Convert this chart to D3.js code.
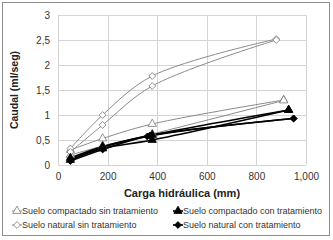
<!DOCTYPE html>
<html>
<head>
<meta charset="utf-8">
<script src="https://cdn.jsdelivr.net/npm/d3@7"></script>
<style>
  body { margin: 0; background: #fff; }
  svg { font-family: "Liberation Sans", Arial, sans-serif; }
</style>
</head>
<body>
<svg></svg>
<script>
// each series has two replicate runs: [carga (mm), caudal (ml/seg)]
const seriesNames = [
    'Suelo compactado sin tratamiento',
    'Suelo compactado con tratamiento',
    'Suelo natural sin tratamiento',
    'Suelo natural con tratamiento'
];

const compactadoSin = [
    [[50, 0.30], [180, 0.53], [380, 0.82], [910, 1.30]],
    [[50, 0.20], [180, 0.38], [380, 0.62], [910, 1.29]]
];
const compactadoCon = [
    [[50, 0.10], [180, 0.33], [380, 0.50], [930, 1.10]],
    [[50, 0.14], [180, 0.37], [380, 0.60], [930, 1.10]]
];
const naturalSin = [
    [[50, 0.33], [180, 1.00], [380, 1.78], [880, 2.52]],
    [[50, 0.26], [180, 0.80], [380, 1.58], [880, 2.50]]
];
const naturalCon = [
    [[50, 0.08], [180, 0.31], [360, 0.57], [950, 0.93]],
    [[50, 0.12], [180, 0.35], [370, 0.59], [950, 0.93]]
];

const xTicks = [0, 200, 400, 600, 800, 1000];
const yTicks = [0, 0.5, 1, 1.5, 2, 2.5, 3];
const yTickLabels = ['0', '0,5', '1', '1,5', '2', '2,5', '3'];

const svgWidth = 333;
const svgHeight = 240;
const margin = { top: 15, right: 27, bottom: 75, left: 58 };
const width = svgWidth - margin.left - margin.right;
const height = svgHeight - margin.top - margin.bottom;

const root = d3.select('svg')
    .attr('width', svgWidth)
    .attr('height', svgHeight);

root.append('rect')
    .attr('x', 2.5).attr('y', 2.5)
    .attr('width', 327).attr('height', 233)
    .attr('fill', '#fff')
    .attr('stroke', '#8c8c8c');

const svg = root.append('g')
    .attr('transform', `translate(${margin.left}, ${margin.top})`);

const xScale = d3.scaleLinear().domain([0, 1000]).range([0, width]);
const yScale = d3.scaleLinear().domain([0, 3]).range([height, 0]);

// grid
svg.append('g')
    .selectAll('line')
    .data(xTicks)
    .enter().append('line')
    .attr('x1', d => Math.round(xScale(d)) + 0.5)
    .attr('x2', d => Math.round(xScale(d)) + 0.5)
    .attr('y1', 0).attr('y2', height)
    .attr('stroke', '#d4d4d4');

svg.append('g')
    .selectAll('line')
    .data(yTicks)
    .enter().append('line')
    .attr('x1', 0).attr('x2', width)
    .attr('y1', d => Math.round(yScale(d)) + 0.5)
    .attr('y2', d => Math.round(yScale(d)) + 0.5)
    .attr('stroke', '#d4d4d4');

const xAxis = svg.append('g')
    .attr('transform', `translate(0, ${height})`)
    .call(d3.axisBottom(xScale).tickValues(xTicks).tickSize(0).tickPadding(8));
xAxis.select('.domain').remove();

const yAxis = svg.append('g')
    .call(d3.axisLeft(yScale).tickValues(yTicks).tickSize(0).tickPadding(8)
        .tickFormat((d, i) => yTickLabels[i]));
yAxis.select('.domain').remove();

svg.selectAll('.tick text')
    .attr('fill', '#333')
    .attr('font-size', '10px')
    .attr('font-family', '"Liberation Sans", Arial, sans-serif');

svg.append('text')
    .attr('x', width / 2)
    .attr('y', height + 32)
    .attr('text-anchor', 'middle')
    .attr('font-size', '11px')
    .attr('font-weight', 'bold')
    .attr('fill', '#222')
    .text('Carga hidráulica (mm)');

svg.append('text')
    .attr('transform', 'rotate(-90)')
    .attr('x', -height / 2)
    .attr('y', -40)
    .attr('text-anchor', 'middle')
    .attr('font-size', '10.5px')
    .attr('font-weight', 'bold')
    .attr('fill', '#222')
    .text('Caudal (ml/seg)');

const line = d3.line()
    .x(d => xScale(d[0]))
    .y(d => yScale(d[1]))
    .curve(d3.curveCatmullRom.alpha(0.5));

const triangle = d3.symbol().type(d3.symbolTriangle).size(30);
const diamond = d3.symbol().type(d3.symbolDiamond2).size(30);

const series = [
    { name: seriesNames[0], runs: compactadoSin, stroke: '#8a8a8a', width: 1, sym: triangle, fill: '#fff' },
    { name: seriesNames[2], runs: naturalSin, stroke: '#8a8a8a', width: 1, sym: diamond, fill: '#fff' },
    { name: seriesNames[1], runs: compactadoCon, stroke: '#000', width: 1.6, sym: triangle, fill: '#000' },
    { name: seriesNames[3], runs: naturalCon, stroke: '#000', width: 1.6, sym: diamond, fill: '#000' }
];

series.forEach(s => {
    s.runs.forEach(run => {
        svg.append('path')
            .datum(run)
            .attr('fill', 'none')
            .attr('stroke', s.stroke)
            .attr('stroke-width', s.width)
            .attr('d', line);
    });
});

series.forEach(s => {
    s.runs.forEach(run => {
        svg.append('g')
            .selectAll('path')
            .data(run)
            .enter().append('path')
            .attr('transform', d => `translate(${xScale(d[0])}, ${yScale(d[1])})`)
            .attr('d', s.sym())
            .attr('fill', s.fill)
            .attr('stroke', s.fill === '#fff' ? '#777' : '#000')
            .attr('stroke-width', 0.8);
    });
});

// legend: compactado on the first row, natural on the second
const legendItems = [
    { s: series[0], x: 17, y: 211 },
    { s: series[2], x: 178, y: 211 },
    { s: series[1], x: 17, y: 225 },
    { s: series[3], x: 178, y: 225 }
];

const legend = root.append('g');
legendItems.forEach(item => {
    const g = legend.append('g').attr('transform', `translate(${item.x}, ${item.y})`);
    g.append('line')
        .attr('x1', -5).attr('x2', 5)
        .attr('stroke', item.s.stroke)
        .attr('stroke-width', item.s.width);
    g.append('path')
        .attr('d', item.s.sym())
        .attr('fill', item.s.fill)
        .attr('stroke', item.s.fill === '#fff' ? '#777' : '#000')
        .attr('stroke-width', 0.8);
    g.append('text')
        .attr('x', 5)
        .attr('dy', '0.35em')
        .attr('font-size', '9px')
        .attr('fill', '#333')
        .text(item.s.name);
});
</script>
</body>
</html>
